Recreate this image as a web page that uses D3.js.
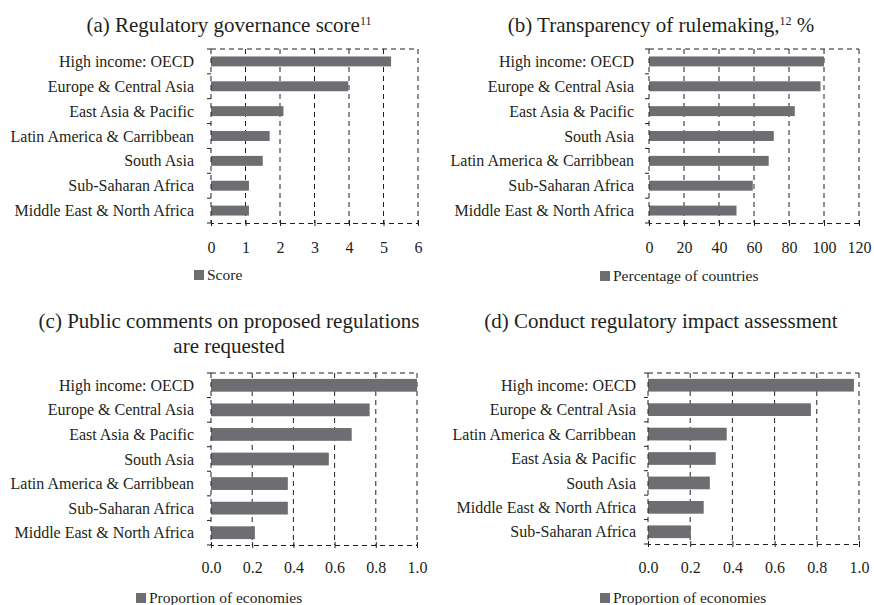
<!DOCTYPE html>
<html>
<head>
<meta charset="utf-8">
<script src="https://cdn.jsdelivr.net/npm/d3@7"></script>
<style>
  body { margin: 0; background: #fff; }
  text { font-family: "Liberation Serif", "Times New Roman", serif; fill: #231f20; }
</style>
</head>
<body>
<div id="chart"></div>
<script>
// (a) Regulatory governance score
var catsA = ["High income: OECD", "Europe & Central Asia", "East Asia & Pacific",
  "Latin America & Carribbean", "South Asia", "Sub-Saharan Africa", "Middle East & North Africa"];
var valsA = [5.22, 3.98, 2.1, 1.7, 1.5, 1.1, 1.1];
var ticksA = [0, 1, 2, 3, 4, 5, 6];

// (b) Transparency of rulemaking, %
var catsB = ["High income: OECD", "Europe & Central Asia", "East Asia & Pacific",
  "South Asia", "Latin America & Carribbean", "Sub-Saharan Africa", "Middle East & North Africa"];
var valsB = [100, 98, 83.3, 71.3, 68.4, 59.3, 50];
var ticksB = [0, 20, 40, 60, 80, 100, 120];

// (c) Public comments on proposed regulations are requested
var catsC = ["High income: OECD", "Europe & Central Asia", "East Asia & Pacific",
  "South Asia", "Latin America & Carribbean", "Sub-Saharan Africa", "Middle East & North Africa"];
var valsC = [1.0, 0.77, 0.683, 0.572, 0.373, 0.373, 0.213];
var ticksC = [0, 0.2, 0.4, 0.6, 0.8, 1.0];

// (d) Conduct regulatory impact assessment
var catsD = ["High income: OECD", "Europe & Central Asia", "Latin America & Carribbean",
  "East Asia & Pacific", "South Asia", "Middle East & North Africa", "Sub-Saharan Africa"];
var valsD = [0.976, 0.772, 0.373, 0.321, 0.293, 0.264, 0.203];
var ticksD = [0, 0.2, 0.4, 0.6, 0.8, 1.0];

var width = 874, height = 605;
var barColor = "#6d6e71", ink = "#231f20";

var svg = d3.select("#chart").append("svg")
    .attr("width", width)
    .attr("height", height);

var panels = [
  {cats: catsA, vals: valsA, ticks: ticksA, fmt: d3.format("d"), legend: "Score",
   x0: 211, x1: 418, y0: 49, y1: 223, pad: 0.6, titleX: 229, labelGap: 17,
   title: [["(a) Regulatory governance score", "11", ""]], titleY: 32, tickY: 253, legX: 194, legY: 270},
  {cats: catsB, vals: valsB, ticks: ticksB, fmt: d3.format("d"), legend: "Percentage of countries",
   x0: 649, x1: 859, y0: 49, y1: 223, pad: 0.6, titleX: 661, labelGap: 15,
   title: [["(b) Transparency of rulemaking,", "12", " %"]], titleY: 32, tickY: 253, legX: 600, legY: 271},
  {cats: catsC, vals: valsC, ticks: ticksC, fmt: d3.format(".1f"), legend: "Proportion of economies",
   x0: 211, x1: 417, y0: 373, y1: 545, pad: 0.48, titleX: 229, labelGap: 17,
   title: [["(c) Public comments on proposed regulations", "", ""], ["are requested", "", ""]],
   titleY: 328, tickY: 573, legX: 136, legY: 593},
  {cats: catsD, vals: valsD, ticks: ticksD, fmt: d3.format(".1f"), legend: "Proportion of economies",
   x0: 648, x1: 859, y0: 373, y1: 544, pad: 0.48, titleX: 661, labelGap: 12,
   title: [["(d) Conduct regulatory impact assessment", "", ""]], titleY: 328, tickY: 573, legX: 600, legY: 593}
];

panels.forEach(drawPanel);

function drawPanel(p) {
  var g = svg.append("g");
  var xMax = p.ticks[p.ticks.length - 1];

  var x = d3.scaleLinear().domain([0, xMax]).range([p.x0, p.x1]);
  var y = d3.scaleBand().domain(p.cats).range([p.y0, p.y1])
      .paddingInner(p.pad).paddingOuter(p.pad / 2);

  // title (with optional superscript)
  p.title.forEach(function(line, i) {
    var t = g.append("text")
        .attr("x", p.titleX)
        .attr("y", p.titleY + i * 25)
        .attr("text-anchor", "middle")
        .style("font-size", "21px");
    t.append("tspan").text(line[0]);
    if (line[1]) {
      t.append("tspan").attr("dy", -7).style("font-size", "12px").text(line[1]);
      if (line[2]) t.append("tspan").attr("dy", 7).text(line[2]);
    }
  });

  // dashed gridlines and frame
  g.selectAll(".grid")
    .data(p.ticks.slice(1))
    .join("line")
      .attr("x1", d => x(d)).attr("x2", d => x(d))
      .attr("y1", p.y0).attr("y2", p.y1)
      .attr("stroke", ink).attr("stroke-width", 1)
      .attr("stroke-dasharray", "5,4");

  g.append("line")
      .attr("x1", p.x0).attr("x2", p.x1)
      .attr("y1", p.y0).attr("y2", p.y0)
      .attr("stroke", ink).attr("stroke-dasharray", "5,4");

  // bars
  g.selectAll(".bar")
    .data(p.vals)
    .join("rect")
      .attr("x", x(0))
      .attr("y", (d, i) => y(p.cats[i]))
      .attr("width", d => x(d) - x(0))
      .attr("height", y.bandwidth())
      .attr("fill", barColor);

  // bottom axis
  var xAxis = g.append("g")
      .attr("transform", `translate(0,${p.y1})`)
      .call(d3.axisBottom(x).tickValues(p.ticks).tickFormat(p.fmt).tickSizeOuter(0).tickSize(3));
  xAxis.select(".domain").attr("stroke", ink).attr("stroke-dasharray", "5,4");
  xAxis.selectAll(".tick line").attr("y1", -3).attr("y2", 3).attr("stroke", ink);
  xAxis.selectAll(".tick text")
      .attr("y", p.tickY - p.y1).attr("dy", 0)
      .style("font-size", "16px")
      .style("font-family", "Liberation Serif, Times New Roman, serif")
      .attr("fill", ink);

  // left axis: dashed line with marks between categories
  g.append("line")
      .attr("x1", p.x0).attr("x2", p.x0)
      .attr("y1", p.y0).attr("y2", p.y1)
      .attr("stroke", ink).attr("stroke-dasharray", "5,4");
  g.selectAll(".cattick")
    .data(d3.range(p.cats.length + 1))
    .join("line")
      .attr("x1", p.x0 - 4).attr("x2", p.x0)
      .attr("y1", i => p.y0 + i * y.step()).attr("y2", i => p.y0 + i * y.step())
      .attr("stroke", ink);

  g.selectAll(".catlabel")
    .data(p.cats)
    .join("text")
      .attr("x", p.x0 - p.labelGap)
      .attr("y", d => y(d) + y.bandwidth() / 2)
      .attr("dy", "0.35em")
      .attr("text-anchor", "end")
      .style("font-size", "16px")
      .text(d => d);

  // legend
  g.append("rect")
      .attr("x", p.legX).attr("y", p.legY)
      .attr("width", 10).attr("height", 10)
      .attr("fill", barColor);
  g.append("text")
      .attr("x", p.legX + 13)
      .attr("y", p.legY + 10)
      .style("font-size", "15.5px")
      .text(p.legend);
}
</script>
</body>
</html>
